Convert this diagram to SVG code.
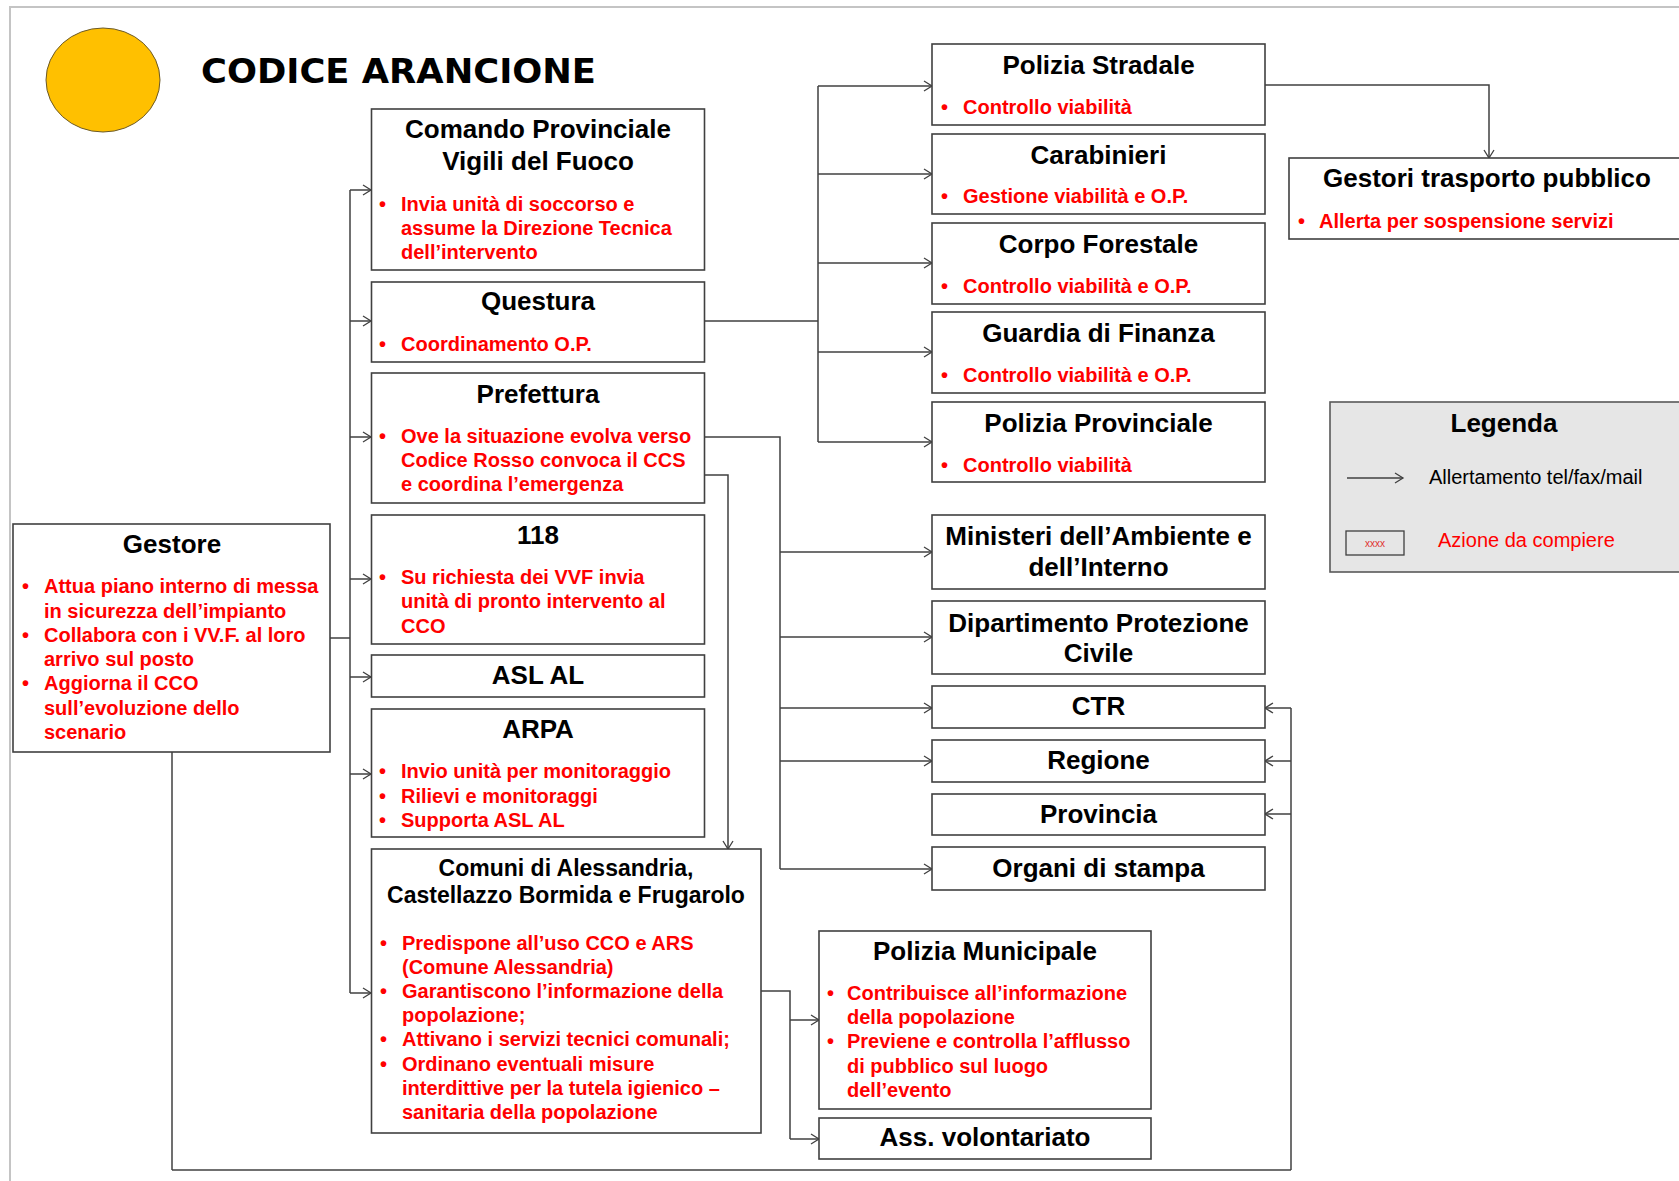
<svg xmlns="http://www.w3.org/2000/svg" width="1679" height="1181" viewBox="0 0 1679 1181">
<defs>
<marker id="arr" markerWidth="12" markerHeight="12" refX="10" refY="6" orient="auto" markerUnits="userSpaceOnUse">
<path d="M2,1 L10,6 L2,11" fill="none" stroke="#404040" stroke-width="1.3"/>
</marker>
<style>
.box{fill:#fff;stroke:#404040;stroke-width:1.6}
.h{font-family:"Liberation Sans",Arial,sans-serif;font-weight:bold;font-size:26px;fill:#000;text-anchor:middle}
.h2{font-family:"Liberation Sans",Arial,sans-serif;font-weight:bold;font-size:23px;fill:#000;text-anchor:middle}
.r{font-family:"Liberation Sans",Arial,sans-serif;font-weight:bold;font-size:20px;fill:#FF0000}
.c{fill:none;stroke:#404040;stroke-width:1.5}
.ca{fill:none;stroke:#404040;stroke-width:1.5;marker-end:url(#arr)}
</style>
</defs>
<rect width="1679" height="1181" fill="#fff"/>
<path d="M10,1181 V7 H1679" fill="none" stroke="#C4C4C4" stroke-width="2"/>

<g id="title">
<ellipse cx="103" cy="80" rx="57" ry="52" fill="#FFC000" stroke="#6b5a2a" stroke-width="1"/>
<text x="201" y="83" font-family="DejaVu Sans, Verdana, sans-serif" font-weight="bold" font-size="34" textLength="395" lengthAdjust="spacingAndGlyphs" fill="#000">CODICE ARANCIONE</text>
</g>

<g id="connectors">
<path class="c" d="M330,638 H350" stroke-width="2.2" stroke="#222"/>
<path class="c" d="M350,190 V993"/>
<path class="ca" d="M350,190 H371"/>
<path class="ca" d="M350,321 H371"/>
<path class="ca" d="M350,437 H371"/>
<path class="ca" d="M350,579 H371"/>
<path class="ca" d="M350,677 H371"/>
<path class="ca" d="M350,774 H371"/>
<path class="ca" d="M350,993 H371"/>

<path class="c" d="M704,321 H818 M818,86 V442"/>
<path class="ca" d="M818,86 H932"/>
<path class="ca" d="M818,174 H932"/>
<path class="ca" d="M818,263 H932"/>
<path class="ca" d="M818,352 H932"/>
<path class="ca" d="M818,442 H932"/>

<path class="ca" d="M1265,85 H1489 V158"/>

<path class="c" d="M704,437 H780 V869" stroke="#222"/>
<path class="ca" d="M780,552 H932"/>
<path class="ca" d="M780,637 H932"/>
<path class="ca" d="M780,708 H932"/>
<path class="ca" d="M780,761 H932"/>
<path class="ca" d="M780,869 H932"/>

<path class="ca" d="M704,475 H728 V849"/>

<path class="c" d="M172,752 V1170"/>
<path class="c" d="M172,1170 H1291" stroke="#1a1a1a" stroke-width="2.6"/>
<path class="c" d="M1291,1170 V708"/>
<path class="ca" d="M1291,708 H1265"/>
<path class="ca" d="M1291,761 H1265"/>
<path class="ca" d="M1291,814 H1265"/>

<path class="c" d="M761,991 H790 V1139"/>
<path class="ca" d="M790,1020 H819"/>
<path class="ca" d="M790,1139 H819"/>
</g>

<g id="gestore">
<rect class="box" x="13" y="524" width="317" height="228"/>
<text class="h" x="172" y="553">Gestore</text>
<text class="r" x="22" y="593">•</text><text class="r" x="44" y="593">Attua piano interno di messa</text>
<text class="r" x="44" y="618">in sicurezza dell’impianto</text>
<text class="r" x="22" y="642">•</text><text class="r" x="44" y="642">Collabora con i VV.F. al loro</text>
<text class="r" x="44" y="666">arrivo sul posto</text>
<text class="r" x="22" y="690">•</text><text class="r" x="44" y="690">Aggiorna il CCO</text>
<text class="r" x="44" y="715">sull’evoluzione dello</text>
<text class="r" x="44" y="739">scenario</text>
</g>

<g id="vvf">
<rect class="box" x="371.5" y="109" width="333" height="161"/>
<text class="h" x="538" y="138">Comando Provinciale</text>
<text class="h" x="538" y="170">Vigili del Fuoco</text>
<text class="r" x="379" y="211">•</text><text class="r" x="401" y="211">Invia unità di soccorso e</text>
<text class="r" x="401" y="235">assume la Direzione Tecnica</text>
<text class="r" x="401" y="259">dell’intervento</text>
</g>

<g id="questura">
<rect class="box" x="371.5" y="282" width="333" height="80"/>
<text class="h" x="538" y="310">Questura</text>
<text class="r" x="379" y="351">•</text><text class="r" x="401" y="351">Coordinamento O.P.</text>
</g>

<g id="prefettura">
<rect class="box" x="371.5" y="373" width="333" height="130"/>
<text class="h" x="538" y="403">Prefettura</text>
<text class="r" x="379" y="443">•</text><text class="r" x="401" y="443">Ove la situazione evolva verso</text>
<text class="r" x="401" y="467">Codice Rosso convoca il CCS</text>
<text class="r" x="401" y="491">e coordina l’emergenza</text>
</g>

<g id="n118">
<rect class="box" x="371.5" y="515" width="333" height="129"/>
<text class="h" x="538" y="544">118</text>
<text class="r" x="379" y="584">•</text><text class="r" x="401" y="584">Su richiesta dei VVF invia</text>
<text class="r" x="401" y="608">unità di pronto intervento al</text>
<text class="r" x="401" y="633">CCO</text>
</g>

<g id="asl">
<rect class="box" x="371.5" y="655" width="333" height="42"/>
<text class="h" x="538" y="684">ASL AL</text>
</g>

<g id="arpa">
<rect class="box" x="371.5" y="709" width="333" height="128"/>
<text class="h" x="538" y="738">ARPA</text>
<text class="r" x="379" y="778">•</text><text class="r" x="401" y="778">Invio unità per monitoraggio</text>
<text class="r" x="379" y="803">•</text><text class="r" x="401" y="803">Rilievi e monitoraggi</text>
<text class="r" x="379" y="827">•</text><text class="r" x="401" y="827">Supporta ASL AL</text>
</g>

<g id="comuni">
<rect class="box" x="371.5" y="849" width="389.5" height="284"/>
<text class="h2" x="566" y="876">Comuni di Alessandria,</text>
<text class="h2" x="566" y="903">Castellazzo Bormida e Frugarolo</text>
<text class="r" x="380" y="950">•</text><text class="r" x="402" y="950">Predispone all’uso CCO e ARS</text>
<text class="r" x="402" y="974">(Comune Alessandria)</text>
<text class="r" x="380" y="998">•</text><text class="r" x="402" y="998">Garantiscono l’informazione della</text>
<text class="r" x="402" y="1022">popolazione;</text>
<text class="r" x="380" y="1046">•</text><text class="r" x="402" y="1046">Attivano i servizi tecnici comunali;</text>
<text class="r" x="380" y="1071">•</text><text class="r" x="402" y="1071">Ordinano eventuali misure</text>
<text class="r" x="402" y="1095">interdittive per la tutela igienico –</text>
<text class="r" x="402" y="1119">sanitaria della popolazione</text>
</g>

<g id="polstradale">
<rect class="box" x="932" y="44" width="333" height="81"/>
<text class="h" x="1098.5" y="74">Polizia Stradale</text>
<text class="r" x="941" y="114">•</text><text class="r" x="963" y="114">Controllo viabilità</text>
</g>

<g id="carabinieri">
<rect class="box" x="932" y="134" width="333" height="80"/>
<text class="h" x="1098.5" y="164">Carabinieri</text>
<text class="r" x="941" y="203">•</text><text class="r" x="963" y="203">Gestione viabilità e O.P.</text>
</g>

<g id="forestale">
<rect class="box" x="932" y="223" width="333" height="81"/>
<text class="h" x="1098.5" y="253">Corpo Forestale</text>
<text class="r" x="941" y="293">•</text><text class="r" x="963" y="293">Controllo viabilità e O.P.</text>
</g>

<g id="gdf">
<rect class="box" x="932" y="312" width="333" height="81"/>
<text class="h" x="1098.5" y="342">Guardia di Finanza</text>
<text class="r" x="941" y="382">•</text><text class="r" x="963" y="382">Controllo viabilità e O.P.</text>
</g>

<g id="polprov">
<rect class="box" x="932" y="402" width="333" height="80"/>
<text class="h" x="1098.5" y="432">Polizia Provinciale</text>
<text class="r" x="941" y="472">•</text><text class="r" x="963" y="472">Controllo viabilità</text>
</g>

<g id="gestori">
<rect class="box" x="1289" y="158" width="420" height="81"/>
<text class="h" x="1487" y="187">Gestori trasporto pubblico</text>
<text class="r" x="1298" y="228">•</text><text class="r" x="1319" y="228">Allerta per sospensione servizi</text>
</g>

<g id="legenda">
<rect x="1330" y="402" width="380" height="170" fill="#E6E6E6" stroke="#595959" stroke-width="1.6"/>
<text class="h" x="1504" y="432">Legenda</text>
<path class="ca" d="M1347,478 H1403"/>
<text x="1429" y="484" font-family="Liberation Sans, Arial, sans-serif" font-size="20" fill="#000">Allertamento tel/fax/mail</text>
<rect x="1346" y="531" width="58" height="24" fill="#E6E6E6" stroke="#404040" stroke-width="1.3"/>
<text x="1375" y="547" font-family="Liberation Sans, Arial, sans-serif" font-size="10" fill="#E03030" text-anchor="middle">xxxx</text>
<text x="1438" y="547" font-family="Liberation Sans, Arial, sans-serif" font-size="20" fill="#FF0000">Azione da compiere</text>
</g>

<g id="ministeri">
<rect class="box" x="932" y="515" width="333" height="74"/>
<text class="h" x="1098.5" y="545">Ministeri dell’Ambiente e</text>
<text class="h" x="1098.5" y="576">dell’Interno</text>
</g>

<g id="dpc">
<rect class="box" x="932" y="601" width="333" height="73"/>
<text class="h" x="1098.5" y="632">Dipartimento Protezione</text>
<text class="h" x="1098.5" y="662">Civile</text>
</g>

<g id="ctr">
<rect class="box" x="932" y="686" width="333" height="42"/>
<text class="h" x="1098.5" y="715">CTR</text>
</g>

<g id="regione">
<rect class="box" x="932" y="740" width="333" height="42"/>
<text class="h" x="1098.5" y="769">Regione</text>
</g>

<g id="provincia">
<rect class="box" x="932" y="794" width="333" height="41"/>
<text class="h" x="1098.5" y="823">Provincia</text>
</g>

<g id="stampa">
<rect class="box" x="932" y="847" width="333" height="43"/>
<text class="h" x="1098.5" y="877">Organi di stampa</text>
</g>

<g id="polmun">
<rect class="box" x="819" y="931" width="332" height="178"/>
<text class="h" x="985" y="960">Polizia Municipale</text>
<text class="r" x="827" y="1000">•</text><text class="r" x="847" y="1000">Contribuisce all’informazione</text>
<text class="r" x="847" y="1024">della popolazione</text>
<text class="r" x="827" y="1048">•</text><text class="r" x="847" y="1048">Previene e controlla l’afflusso</text>
<text class="r" x="847" y="1073">di pubblico sul luogo</text>
<text class="r" x="847" y="1097">dell’evento</text>
</g>

<g id="volontariato">
<rect class="box" x="819" y="1118" width="332" height="41"/>
<text class="h" x="985" y="1146">Ass. volontariato</text>
</g>
</svg>
